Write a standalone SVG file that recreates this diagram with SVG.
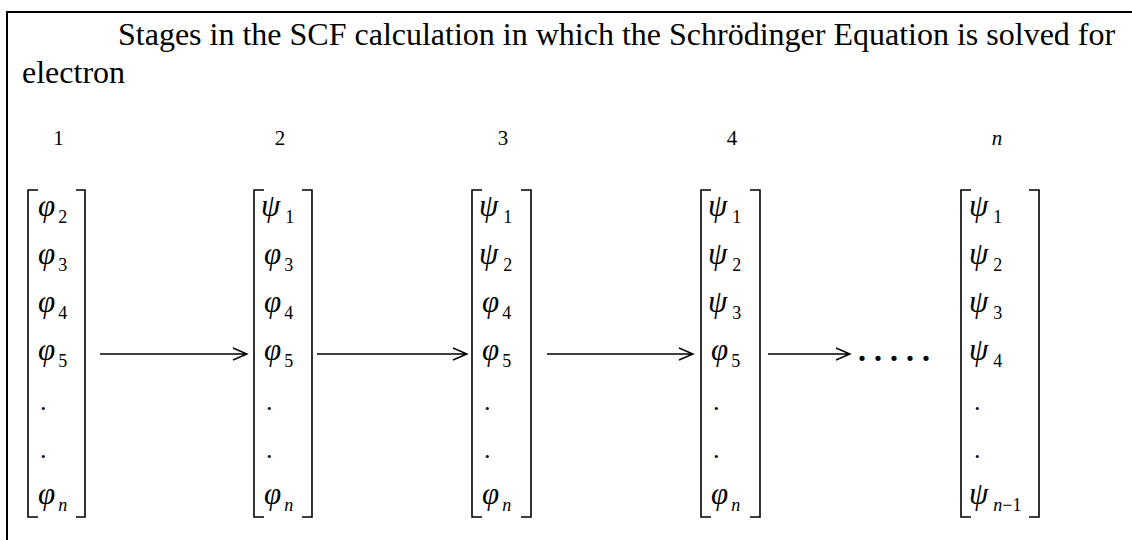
<svg xmlns="http://www.w3.org/2000/svg" width="1132" height="540" viewBox="0 0 1132 540">
<style>
.t{font-family:"Liberation Serif","Times New Roman",serif;fill:#000}
.title{font-size:32px}
.num{font-size:21px}
.g{font-family:"Liberation Serif","Times New Roman",serif;font-style:italic;font-size:31px;fill:#000}
.s{font-size:18px;font-style:normal}
.si{font-size:18px;font-style:italic}
.dot{font-family:"Liberation Serif",serif;font-size:26px;fill:#000}
.br{fill:none;stroke:#000;stroke-width:1.6}
.cn{fill:none;stroke:#000;stroke-width:1.4}
</style>
<rect width="1132" height="540" fill="#fff"/>
<path d="M1140,12 H7 V548" fill="none" stroke="#000" stroke-width="2"/>
<text class="t title" x="118" y="45">Stages in the SCF calculation in which the Schrödinger Equation is solved for</text>
<text class="t title" x="22" y="83">electron</text>
<g id="labels" class="t num" text-anchor="middle">
<text x="58.5" y="145">1</text>
<text x="280" y="145">2</text>
<text x="503" y="145">3</text>
<text x="732" y="145">4</text>
<text x="997" y="145" font-style="italic">n</text>
</g>
<g id="stage1">
<path class="br" d="M38,190 H28 V517 H38 M76,190 H85 V517 H76"/>
<text class="g" x="38" y="216">φ<tspan class="s" dx="3" dy="7">2</tspan></text>
<text class="g" x="38" y="264">φ<tspan class="s" dx="3" dy="7">3</tspan></text>
<text class="g" x="38" y="312">φ<tspan class="s" dx="3" dy="7">4</tspan></text>
<text class="g" x="38" y="360">φ<tspan class="s" dx="3" dy="7">5</tspan></text>
<text class="dot" x="40" y="410">.</text>
<text class="dot" x="40" y="458">.</text>
<text class="g" x="38" y="504">φ<tspan class="si" dx="3" dy="7">n</tspan></text>
</g>
<g id="stage2">
<path class="br" d="M264,190 H254 V517 H264 M302,190 H312 V517 H302"/>
<text class="g" x="261" y="216">ψ<tspan class="s" dx="5" dy="7">1</tspan></text>
<text class="g" x="264" y="264">φ<tspan class="s" dx="3" dy="7">3</tspan></text>
<text class="g" x="264" y="312">φ<tspan class="s" dx="3" dy="7">4</tspan></text>
<text class="g" x="264" y="360">φ<tspan class="s" dx="3" dy="7">5</tspan></text>
<text class="dot" x="266" y="410">.</text>
<text class="dot" x="266" y="458">.</text>
<text class="g" x="264" y="504">φ<tspan class="si" dx="3" dy="7">n</tspan></text>
</g>
<g id="stage3">
<path class="br" d="M482,190 H472 V517 H482 M521,190 H531 V517 H521"/>
<text class="g" x="479" y="216">ψ<tspan class="s" dx="5" dy="7">1</tspan></text>
<text class="g" x="479" y="264">ψ<tspan class="s" dx="5" dy="7">2</tspan></text>
<text class="g" x="482" y="312">φ<tspan class="s" dx="3" dy="7">4</tspan></text>
<text class="g" x="482" y="360">φ<tspan class="s" dx="3" dy="7">5</tspan></text>
<text class="dot" x="484" y="410">.</text>
<text class="dot" x="484" y="458">.</text>
<text class="g" x="482" y="504">φ<tspan class="si" dx="3" dy="7">n</tspan></text>
</g>
<g id="stage4">
<path class="br" d="M711,190 H701 V517 H711 M750,190 H760 V517 H750"/>
<text class="g" x="708" y="216">ψ<tspan class="s" dx="5" dy="7">1</tspan></text>
<text class="g" x="708" y="264">ψ<tspan class="s" dx="5" dy="7">2</tspan></text>
<text class="g" x="708" y="312">ψ<tspan class="s" dx="5" dy="7">3</tspan></text>
<text class="g" x="711" y="360">φ<tspan class="s" dx="3" dy="7">5</tspan></text>
<text class="dot" x="713" y="410">.</text>
<text class="dot" x="713" y="458">.</text>
<text class="g" x="711" y="504">φ<tspan class="si" dx="3" dy="7">n</tspan></text>
</g>
<g id="stageN">
<path class="br" d="M971,190 H961 V517 H971 M1029,190 H1039 V517 H1029"/>
<text class="g" x="969" y="216">ψ<tspan class="s" dx="5" dy="7">1</tspan></text>
<text class="g" x="969" y="264">ψ<tspan class="s" dx="5" dy="7">2</tspan></text>
<text class="g" x="969" y="312">ψ<tspan class="s" dx="5" dy="7">3</tspan></text>
<text class="g" x="969" y="360">ψ<tspan class="s" dx="5" dy="7">4</tspan></text>
<text class="dot" x="974" y="410">.</text>
<text class="dot" x="974" y="458">.</text>
<text class="g" x="969" y="504">ψ<tspan class="si" dx="5" dy="7">n</tspan><tspan class="s">−1</tspan></text>
</g>
<g id="connectors" class="cn">
<path d="M100,354 H247 M233,348 L247,354 L233,360"/>
<path d="M317,354 H467 M453,348 L467,354 L453,360"/>
<path d="M547,354 H693 M679,348 L693,354 L679,360"/>
<path d="M768,354 H850 M836,348 L850,354 L836,360"/>
</g>
<text class="t" x="858" y="361" font-size="32" font-weight="bold" letter-spacing="8">.....</text>
</svg>
